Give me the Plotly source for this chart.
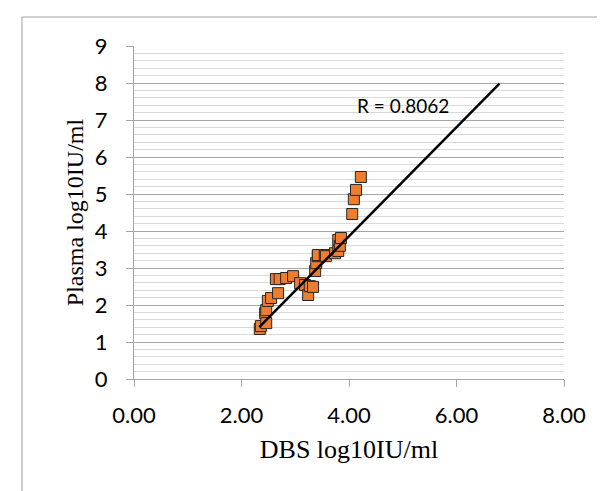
import plotly.graph_objects as go

# DBS vs plasma viral load (log10 IU/ml)
dbs = [2.34, 2.36, 2.44, 2.46, 2.46, 2.49, 2.55, 2.64, 2.68, 2.71, 2.83, 2.96,
       3.09, 3.18, 3.24, 3.27, 3.33, 3.37, 3.39, 3.42, 3.42, 3.55, 3.57, 3.74,
       3.80, 3.80, 3.83, 3.85, 4.06, 4.09, 4.13, 4.22]
plasma = [1.35, 1.43, 1.78, 1.51, 1.86, 2.11, 2.19, 2.70, 2.32, 2.70, 2.73, 2.78,
          2.59, 2.54, 2.27, 2.51, 2.49, 2.92, 3.13, 3.32, 3.35, 3.35, 3.32, 3.40,
          3.76, 3.46, 3.60, 3.81, 4.46, 4.86, 5.11, 5.46]

# trend line ends
fit_x = [2.33, 6.80]
fit_y = [1.40, 7.98]

r_text = "R = 0.8062"

grid_major = "#a6a6a6"
grid_minor = "#d9d9d9"

fig = go.Figure()

fig.add_trace(go.Scatter(
    x=dbs, y=plasma, mode="markers",
    marker=dict(symbol="square", size=11, color="#ED7D31",
                line=dict(color="#262626", width=1)),
    showlegend=False))

fig.add_trace(go.Scatter(
    x=fit_x, y=fit_y, mode="lines",
    line=dict(color="black", width=2.5),
    showlegend=False))

fig.add_annotation(x=5.0, y=7.4, text=r_text, showarrow=False,
                   font=dict(family="Lato", size=19, color="black"))

# chart border (Excel style)
fig.add_shape(type="rect", xref="paper", yref="paper",
              x0=-0.2605, x1=1.3, y0=-0.6, y1=1.087,
              line=dict(color="#a0a0a0", width=1), layer="below")

fig.update_xaxes(
    range=[0, 8], tickvals=[0, 2, 4, 6, 8], tickformat=".2f",
    showgrid=False, zeroline=False,
    showline=True, linecolor=grid_major, linewidth=1,
    ticks="outside", ticklen=7, tickcolor=grid_major, ticklabelstandoff=10,
    tickfont=dict(family="Lato", size=22, color="black"),
    title=dict(text="DBS log10IU/ml", standoff=12,
               font=dict(family="Liberation Serif", size=26, color="black")))

fig.update_yaxes(
    range=[0, 9], dtick=1,
    showgrid=True, gridcolor=grid_major, gridwidth=1,
    minor=dict(dtick=0.2, showgrid=True, gridcolor=grid_minor, gridwidth=1),
    zeroline=False,
    showline=True, linecolor=grid_major, linewidth=1,
    ticks="outside", ticklen=7, tickcolor=grid_major, ticklabelstandoff=14,
    tickfont=dict(family="Lato", size=22, color="black"),
    title=dict(text="Plasma log10IU/ml", standoff=4,
               font=dict(family="Liberation Serif", size=24, color="black")))

fig.update_layout(
    width=605, height=491,
    margin=dict(l=126, r=49, t=38, b=120),
    plot_bgcolor="white", paper_bgcolor="white")

fig.write_html("out.html")
